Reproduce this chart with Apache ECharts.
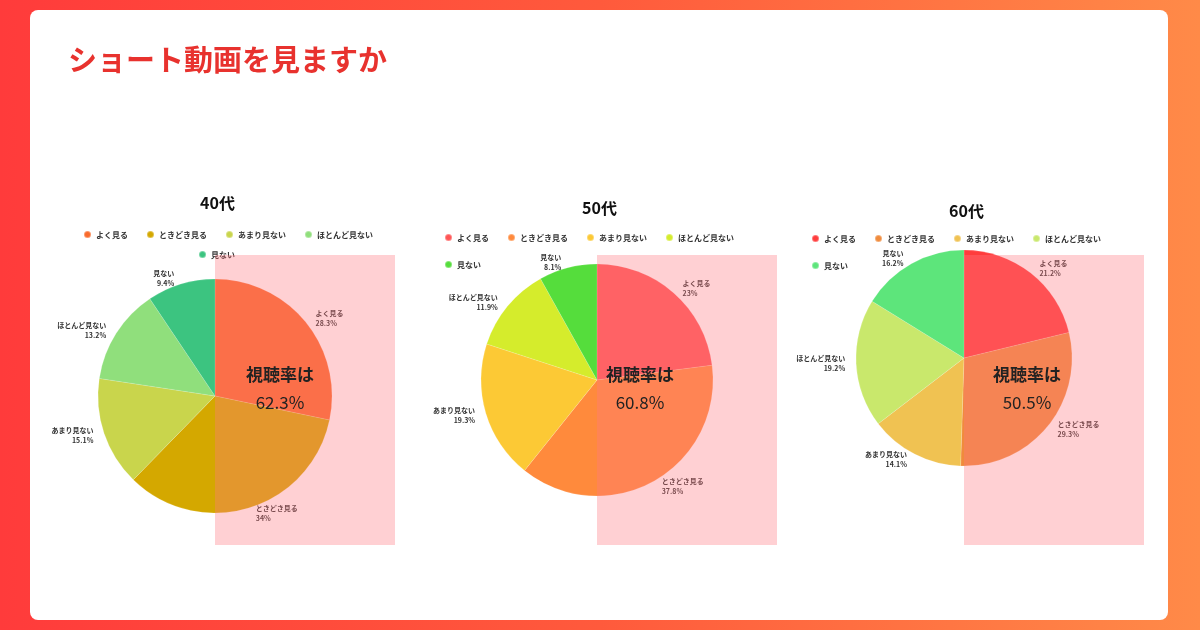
<!DOCTYPE html>
<html><head><meta charset="utf-8">
<script src="https://cdn.jsdelivr.net/npm/echarts@6/dist/echarts.min.js"></script>
<style>
html,body{margin:0;padding:0;width:1200px;height:630px;overflow:hidden;
 background:linear-gradient(90deg,#ff3b3b 0%,#ff5a3c 50%,#ff8a48 100%);}
#chart{position:absolute;left:0;top:0;width:1200px;height:630px;}
</style></head>
<body>
<div id="chart"></div>
<script>
var names = ['よく見る', 'ときどき見る', 'あまり見ない', 'ほとんど見ない', '見ない'];
var ages = ['40代', '50代', '60代'];
var values40 = [28.3, 34, 15.1, 13.2, 9.4];
var values50 = [23, 37.8, 19.3, 11.9, 8.1];
var values60 = [21.2, 29.3, 14.1, 19.2, 16.2];
var rates = ['62.3%', '60.8%', '50.5%'];
var colors40 = ['#f96b2c', '#d4a800', '#c9d54c', '#90df7c', '#3cc480'];
var colors50 = ['#ff5656', '#ff8a3c', '#fcc935', '#d5ec2c', '#55dd3c'];
var colors60 = ['#ff3c3c', '#f08b3c', '#f0c252', '#c9e86c', '#5de57b'];

var allValues = [values40, values50, values60];
var allColors = [colors40, colors50, colors60];
var centers = [[215, 396], [597, 380], [964, 358]];
var radii = [117, 116, 108];
var titleTops = [190, 195, 198];
var legendTops = [225, 228, 229];
var textX = [280, 640, 1027];

var font = '"Noto Sans CJK JP", sans-serif';
var series = [], titles = [], legends = [];
var graphics = [
  {type: 'rect', shape: {x: 30, y: 10, width: 1138, height: 610, r: 8}, style: {fill: '#fff'}, z: -10},
  {type: 'text', left: 68, top: 45, style: {text: 'ショート動画を見ますか', fill: '#e8322e', font: 'bold 29px ' + font}}
];

function legendOf(i, list, left, top, width) {
  return {
    seriesIndex: i, left: left, top: top, width: width,
    itemWidth: 7, itemHeight: 7, icon: 'circle', itemGap: 18,
    textStyle: {fontSize: 8, fontWeight: 'bold', color: '#333', fontFamily: font},
    data: list.map(function (n) {
      return {name: n, itemStyle: {color: allColors[i][names.indexOf(n)]}};
    })
  };
}

ages.forEach(function (age, i) {
  var c = centers[i];
  graphics.push({type: 'rect', shape: {x: c[0], y: 255, width: 180, height: 290},
    style: {fill: 'rgba(255,121,129,0.35)'}, z: 50});
  graphics.push({type: 'text', x: textX[i], y: 375, z: 100,
    style: {text: '視聴率は', fill: '#222', font: 'bold 17px ' + font, align: 'center', verticalAlign: 'middle'}});
  graphics.push({type: 'text', x: textX[i], y: 403, z: 100,
    style: {text: rates[i], fill: '#222', font: '17px ' + font, align: 'center', verticalAlign: 'middle'}});
  titles.push({text: age, left: c[0] - 20, top: titleTops[i], textStyle: {fontSize: 16, fontWeight: 'bold', color: '#111', fontFamily: font}});
  if (i === 0) {
    legends.push(legendOf(i, names.slice(0, 4), c[0] - 137, legendTops[i], 320));
    legends.push(legendOf(i, names.slice(4), c[0] - 22, legendTops[i] + 20, 80));
  } else {
    legends.push(legendOf(i, names, c[0] - 158, legendTops[i], 340));
  }
  series.push({
    type: 'pie', center: c, radius: [0, radii[i]], startAngle: 90, clockwise: true,
    silent: true, z: 1,
    itemStyle: {borderColor: 'rgba(255,255,255,0.3)', borderWidth: 0.5},
    label: {show: true, position: 'outside', fontSize: 7, fontWeight: 'bold', color: '#333', fontFamily: font,
      lineHeight: 10, align: 'center',
      formatter: function (p) { return p.name + '\n' + p.value + '%'; }},
    labelLine: {show: false, length: 6, length2: 0},
    data: names.map(function (n, j) {
      return {name: n, value: allValues[i][j], itemStyle: {color: allColors[i][j]}};
    })
  });
});

var chart = echarts.init(document.getElementById('chart'), null, {renderer: 'canvas'});
chart.setOption({
  backgroundColor: 'transparent',
  animation: false,
  title: titles,
  legend: legends,
  graphic: graphics,
  series: series
});
</script>
</body></html>
